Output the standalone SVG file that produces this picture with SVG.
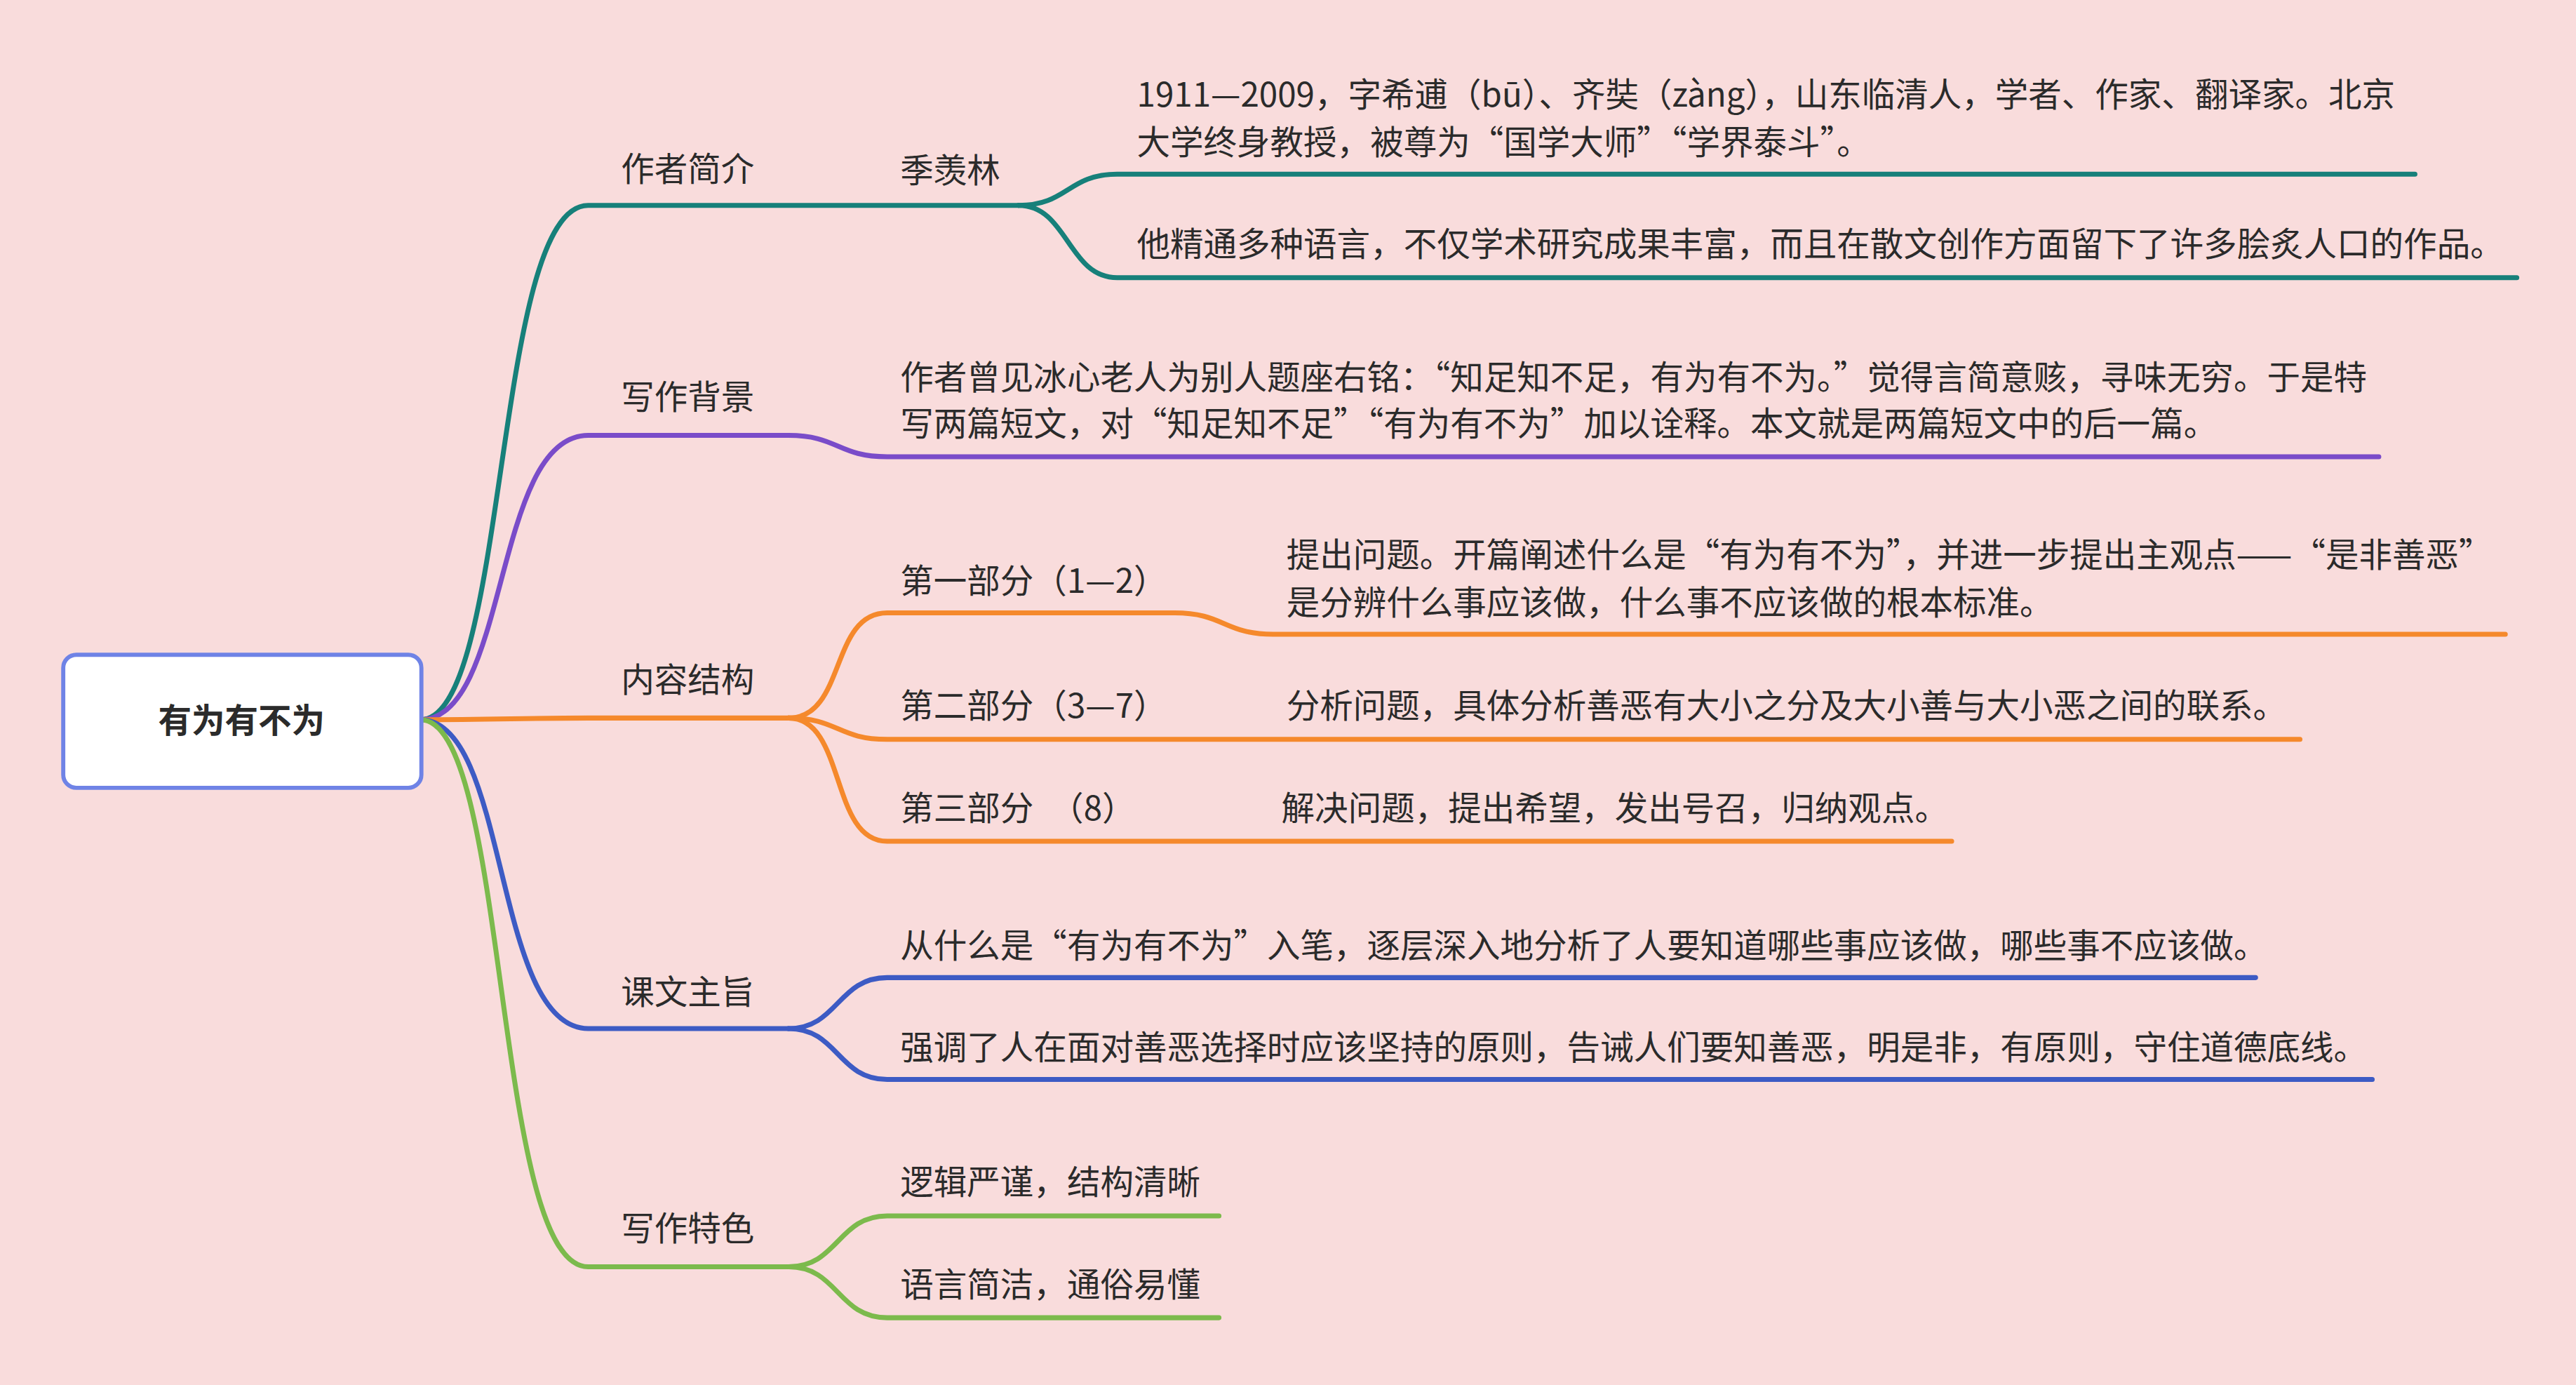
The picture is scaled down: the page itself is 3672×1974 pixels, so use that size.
<svg xmlns="http://www.w3.org/2000/svg" width="3672" height="1974" viewBox="0 0 3672 1974">
<style>
text{font-family:"Noto Sans CJK SC","Noto Sans",sans-serif;font-size:20.3px;fill:#2b2b2b}
.c{fill:none;stroke-width:3;stroke-linecap:round}
.t{stroke:#17807a}.p{stroke:#7a4cc9}.o{stroke:#f5892c}.b{stroke:#3d5bc4}.g{stroke:#7cba4c}
</style>
<rect width="3672" height="1974" fill="#f9dcdc"/>
<g transform="scale(2.3418)">
<g id="connectors">
<path class="c t" d="M256,438 C310,438 300,125 358,125 H480 L620,125"/>
<path class="c t" d="M620,125 C650,125 650,106 680,106 H1470"/>
<path class="c t" d="M620,125 C650,125 650,169 680,169 H1532"/>
<path class="c p" d="M256,438 C310,438 300,265 358,265 H480 C510,265 510,278 540,278 H1448"/>
<path class="c o" d="M256,438 C300,438 320,437 358,437 H480"/>
<path class="c o" d="M480,437 C515,437 505,373 540,373 H715 C745,373 745,386 775,386 H1525"/>
<path class="c o" d="M480,437 C510,437 510,450 540,450 H1400"/>
<path class="c o" d="M480,437 C515,437 505,512 540,512 H1188"/>
<path class="c b" d="M256,438 C310,438 300,626 358,626 H480"/>
<path class="c b" d="M480,626 C510,626 510,595 540,595 H1373"/>
<path class="c b" d="M480,626 C510,626 510,657 540,657 H1444"/>
<path class="c g" d="M256,438 C310,438 300,771 358,771 H480"/>
<path class="c g" d="M480,771 C510,771 510,740 540,740 H742"/>
<path class="c g" d="M480,771 C510,771 510,802 540,802 H742"/>
</g>
<g id="root"><rect x="38.5" y="398.5" width="218" height="81" rx="8" fill="#fff" stroke="#6f83e6" stroke-width="2.5"/><text x="147" y="446" text-anchor="middle" font-size="23" font-weight="bold">有为有不为</text></g>
<g id="n1"><text x="378" y="110">作者简介</text></g>
<g id="n1a"><text x="548" y="111">季羡林</text></g>
<g id="n1a1"><text x="692" y="65">1911—2009，字希逋（bū）、齐奘（zàng），山东临清人，学者、作家、翻译家。北京</text><text x="692" y="94">大学终身教授，被尊为“国学大师”“学界泰斗”。</text></g>
<g id="n1a2"><text x="692" y="156">他精通多种语言，不仅学术研究成果丰富，而且在散文创作方面留下了许多脍炙人口的作品。</text></g>
<g id="n2"><text x="378" y="249">写作背景</text></g>
<g id="n2a"><text x="548" y="237">作者曾见冰心老人为别人题座右铭：“知足知不足，有为有不为。”觉得言简意赅，寻味无穷。于是特</text><text x="548" y="265">写两篇短文，对“知足知不足”“有为有不为”加以诠释。本文就是两篇短文中的后一篇。</text></g>
<g id="n3"><text x="378" y="421">内容结构</text></g>
<g id="n3a"><text x="548" y="361">第一部分（1—2）</text></g>
<g id="n3a1"><text x="783" y="345">提出问题。开篇阐述什么是“有为有不为”，并进一步提出主观点——“是非善恶”</text><text x="783" y="374">是分辨什么事应该做，什么事不应该做的根本标准。</text></g>
<g id="n3b"><text x="548" y="437">第二部分（3—7）</text><text x="783" y="437">分析问题，具体分析善恶有大小之分及大小善与大小恶之间的联系。</text></g>
<g id="n3c"><text x="548" y="499" xml:space="preserve">第三部分　（8）</text><text x="780" y="499">解决问题，提出希望，发出号召，归纳观点。</text></g>
<g id="n4"><text x="378" y="611">课文主旨</text></g>
<g id="n4a"><text x="548" y="583">从什么是“有为有不为”入笔，逐层深入地分析了人要知道哪些事应该做，哪些事不应该做。</text></g>
<g id="n4b"><text x="548" y="645">强调了人在面对善恶选择时应该坚持的原则，告诫人们要知善恶，明是非，有原则，守住道德底线。</text></g>
<g id="n5"><text x="378" y="755">写作特色</text></g>
<g id="n5a"><text x="548" y="727">逻辑严谨，结构清晰</text></g>
<g id="n5b"><text x="548" y="789">语言简洁，通俗易懂</text></g>
</g>
</svg>
